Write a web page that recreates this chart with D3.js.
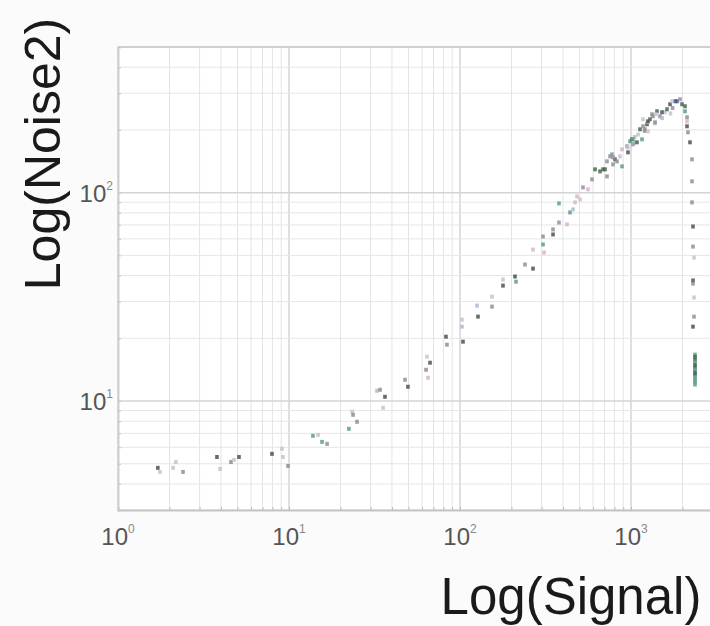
<!DOCTYPE html>
<html>
<head>
<meta charset="utf-8">
<script src="https://cdn.jsdelivr.net/npm/d3@7/dist/d3.min.js"></script>
<style>
  html, body { margin: 0; padding: 0; background: #fbfbfb; }
  svg { display: block; }
</style>
</head>
<body>
<svg id="chart" width="710" height="626"></svg>
<script>
// ---- data ----
const signal = [
  1.71, 1.76, 2.10, 2.18, 2.40, 3.79, 3.95, 4.58, 4.77, 5.10,
  7.95, 9.10, 9.22, 9.87, 13.8, 14.8, 15.6, 16.7, 22.4, 23.4,
  23.7, 25.0, 32.7, 34.1, 36.4, 35.5, 47.7, 49.6, 63.3, 66.8,
  65.0, 64.1, 82.8, 83.9, 102.7, 102.7, 104.1, 125.7, 127.4, 153.9,
  153.9, 178.4, 178.4, 209.7, 212.6, 239.9, 267.3, 267.3, 305.8, 305.8,
  309.9, 349.9, 349.9, 379.2, 379.2, 422.4, 439.9, 458.0, 470.5, 503.2,
  483.3, 524.0, 560.5, 591.5, 616.0, 686.1, 723.9, 723.9, 774.3, 806.2,
  886.1, 886.1, 947.6, 986.7, 1013.5, 1055.4, 1084.1, 1128.8, 1175.4, 1175.4,
  1240.5, 1291.6, 1345.0, 1419.1, 1477.7, 1580.6, 1623.8, 1690.9, 1808.5, 1857.9,
  1934.5, 1987.3, 2069.5, 2069.5, 2126.0, 2126.0, 2126.0, 2154.4, 2213.1, 2273.6,
  2273.6, 2273.6, 2304.5, 2304.5, 2335.7, 2304.5, 2304.5, 2335.7, 2335.7, 2304.5,
  2367.5, 2367.5, 2367.5, 2367.5, 2367.5, 2367.5, 2367.5, 2367.5, 2367.5, 2367.5,
  2367.5, 2367.5, 2367.5,
  1100, 1200, 1380, 1520, 1700, 1750, 1400, 1250, 960, 1050,
  1737, 1518, 1327, 1257, 1382, 1207, 1257, 1027, 1160, 1027,
  960, 862, 785, 754, 828, 705, 659, 785
];
const noise = [
  4.78, 4.57, 4.78, 5.10, 4.57, 5.39, 4.72, 5.10, 5.22, 5.39,
  5.58, 5.90, 5.39, 4.88, 6.81, 6.88, 6.37, 6.23, 7.36, 8.88,
  8.59, 7.95, 11.2, 11.33, 10.48, 9.28, 12.65, 11.71, 14.13, 15.27,
  12.93, 16.32, 20.36, 18.64, 24.59, 22.75, 19.27, 28.70, 25.42, 31.7,
  28.39, 38.3, 35.8, 39.6, 37.4, 45.2, 43.2, 53.3, 61.6, 56.4,
  51.6, 66.6, 63.0, 88.8, 71.9, 70.4, 80.4, 83.1, 89.8, 92.8,
  95.9, 106, 103.7, 115.8, 129.4, 129.4, 141.3, 119.7, 152.7, 144.5,
  161.4, 133.7, 166.9, 176.4, 180.3, 174.4, 174.4, 201.4, 208.2, 225,
  212.9, 225, 232.6, 245.8, 232.6, 243.1, 251.3, 265.6, 274.6, 274.6,
  280.7, 265.6, 259.8, 245.8, 230, 220, 208.2, 194.8, 174.4, 144.5,
  113.3, 89.8, 68.8, 55.1, 48.8, 37.9, 36.6, 31.4, 25.4, 22.75,
  16.7, 16.3, 15.8, 15.3, 14.9, 14.5, 14.1, 13.7, 13.4, 13.0,
  12.65, 12.3, 12.0,
  190, 198, 215, 228, 240, 255, 238, 218, 165, 185,
  274.6, 243.1, 237.7, 220, 217.6, 201.4, 197, 180.3, 180.3, 170.6,
  156.1, 149.4, 147.7, 149.4, 141.3, 129.4, 126.5, 136.7
];
const sample = [
  0, 2, 2, 2, 1, 0, 2, 1, 2, 0,
  0, 2, 2, 1, 4, 2, 4, 1, 4, 2,
  1, 1, 8, 1, 0, 2, 1, 0, 1, 0,
  5, 2, 0, 1, 2, 8, 0, 8, 0, 2,
  1, 2, 0, 0, 4, 1, 0, 5, 1, 4,
  5, 1, 0, 4, 6, 5, 4, 8, 2, 2,
  5, 6, 5, 1, 3, 3, 6, 1, 1, 3,
  5, 4, 6, 4, 3, 5, 3, 3, 1, 2,
  0, 3, 1, 3, 6, 2, 3, 0, 7, 7,
  6, 3, 3, 4, 1, 5, 0, 1, 0, 1,
  1, 1, 0, 1, 2, 0, 1, 2, 1, 0,
  4, 3, 3, 4, 3, 3, 4, 3, 3, 4,
  4, 4, 4,
  2, 6, 2, 8, 2, 6, 2, 5, 2, 8,
  2, 0, 1, 0, 1, 1, 2, 4, 4, 6,
  0, 2, 6, 1, 1, 3, 3, 1
];
const sampleColors = [
  "#4b5255", "#8d9092", "#c2c4c7", "#46694f", "#5d9f8a",
  "#d8b4c4", "#9a8ba9", "#3f5a82", "#aebad2"
];
const xDomain = [1, 3000];
const yDomain = [3, 500];
const xLabelTicks = [1, 10, 100, 1000];
const yLabelTicks = [10, 100];
const xTitle = "Log(Signal)";
const yTitle = "Log(Noise2)";

(function draw() {
  const svg = d3.select("#chart");
  const pL = 118, pT = 47, pB = 510;
  const pR = 118 + 171 * Math.log10(xDomain[1]);

  const x = d3.scaleLog().domain(xDomain).range([pL, pR]);
  const y = d3.scaleLog().domain(yDomain).range([pB, pT]);

  svg.append("rect")
    .attr("x", pL).attr("y", pT)
    .attr("width", pR - pL).attr("height", pB - pT)
    .attr("fill", "#ffffff");

  const xt = x.ticks();
  const yt = y.ticks();
  const isMajor = v => Math.abs(Math.log10(v) - Math.round(Math.log10(v))) < 1e-9;

  svg.append("g").selectAll("line").data(xt).join("line")
    .attr("x1", d => x(d)).attr("x2", d => x(d))
    .attr("y1", pT).attr("y2", pB)
    .attr("stroke", d => isMajor(d) ? "#d4d4d4" : "#e4e4e4")
    .attr("stroke-width", d => isMajor(d) ? 1.5 : 1);

  svg.append("g").selectAll("line").data(yt).join("line")
    .attr("x1", pL).attr("x2", pR)
    .attr("y1", d => y(d)).attr("y2", d => y(d))
    .attr("stroke", d => isMajor(d) ? "#d4d4d4" : "#e6e6e6")
    .attr("stroke-width", d => isMajor(d) ? 1.5 : 1);

  svg.append("line").attr("x1", pL).attr("x2", pR).attr("y1", pT).attr("y2", pT)
    .attr("stroke", "#cfcfcf").attr("stroke-width", 2);

  const xAxis = d3.axisBottom(x).tickValues(xt).tickSize(-3).tickFormat("");
  svg.append("g").attr("transform", `translate(0,${pB})`).call(xAxis)
    .call(g => g.select(".domain").attr("stroke", "#c4c4c4").attr("stroke-width", 2))
    .call(g => g.selectAll(".tick line").attr("stroke", "#bdbdbd"));

  const yAxis = d3.axisLeft(y).tickValues(yt).tickSize(-3).tickFormat("");
  svg.append("g").attr("transform", `translate(${pL},0)`).call(yAxis)
    .call(g => g.select(".domain").attr("stroke", "#cfcfcf").attr("stroke-width", 2))
    .call(g => g.selectAll(".tick line").attr("stroke", "#c4c4c4"));

  const font = "'Liberation Sans', Arial, sans-serif";
  const xl = svg.append("g").selectAll("text").data(xLabelTicks).join("text")
    .attr("x", d => x(d)).attr("y", 545)
    .attr("text-anchor", "middle")
    .attr("font-family", font).attr("font-size", 24).attr("fill", "#555");
  xl.append("tspan").text("10");
  xl.append("tspan").attr("dy", -12).attr("font-size", 12).attr("fill", "#888")
    .text(d => Math.round(Math.log10(d)));

  const yl = svg.append("g").selectAll("text").data(yLabelTicks).join("text")
    .attr("x", pL - 5).attr("y", d => y(d) + 9)
    .attr("text-anchor", "end")
    .attr("font-family", font).attr("font-size", 24).attr("fill", "#555");
  yl.append("tspan").text("10");
  yl.append("tspan").attr("dy", -12).attr("font-size", 12).attr("fill", "#888")
    .text(d => Math.round(Math.log10(d)));

  svg.append("clipPath").attr("id", "plotclip")
    .append("rect").attr("x", pL).attr("y", pT)
    .attr("width", pR - pL).attr("height", pB - pT);

  const pts = d3.range(signal.length).map(i => ({ s: signal[i], n: noise[i], g: sample[i] }));
  svg.append("g").attr("clip-path", "url(#plotclip)")
    .selectAll("rect").data(pts).join("rect")
    .attr("x", d => x(d.s) - 1.8).attr("y", d => y(d.n) - 2)
    .attr("width", 3.6).attr("height", 4)
    .attr("fill", d => sampleColors[d.g])
    .attr("opacity", 0.85);

  svg.append("text")
    .attr("x", 571).attr("y", 614)
    .attr("text-anchor", "middle")
    .attr("font-family", font).attr("font-size", 51).attr("fill", "#1a1a1a")
    .text(xTitle);

  svg.append("text")
    .attr("transform", "translate(60,154) rotate(-90)")
    .attr("text-anchor", "middle")
    .attr("font-family", font).attr("font-size", 50).attr("fill", "#1a1a1a")
    .text(yTitle);
})();
</script>
</body>
</html>
